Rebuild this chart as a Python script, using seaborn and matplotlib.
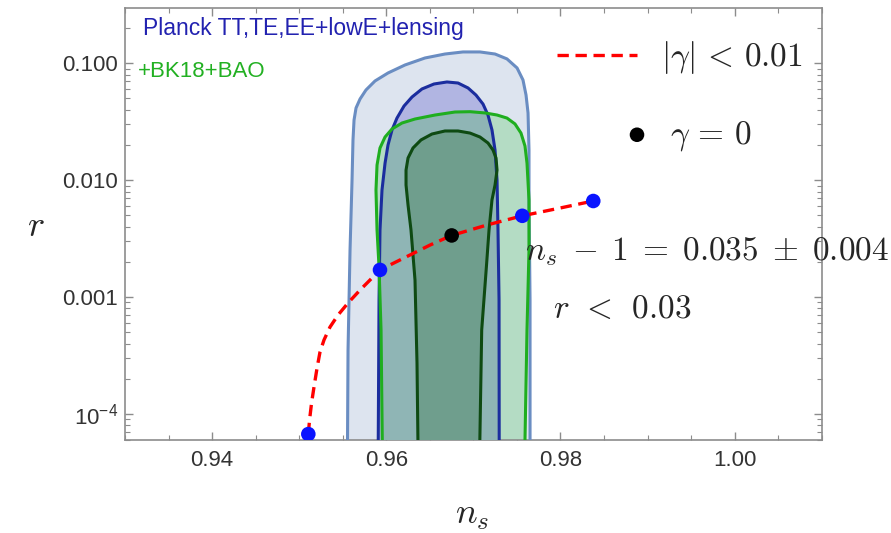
import matplotlib
matplotlib.use("Agg")
import matplotlib.pyplot as plt
import matplotlib.ticker as mticker
import seaborn as sns
import pandas as pd

# contour outlines (ns, r), open towards the bottom of the plot
outer_ns = [0.95549, 0.95561, 0.95584, 0.95607, 0.95618, 0.95630, 0.95653, 0.95699,
            0.95767, 0.95871, 0.96020, 0.96215, 0.96445, 0.96674, 0.96881, 0.97076,
            0.97249, 0.97386, 0.97502, 0.97570, 0.97605, 0.97628, 0.97639, 0.97639,
            0.97651, 0.97651]
outer_r = [1e-5, 3.53e-4, 2.53e-3, 1.00e-2, 0.0221, 0.0327, 0.0415, 0.0495,
           0.0591, 0.0706, 0.0826, 0.0967, 0.111, 0.120, 0.125, 0.125,
           0.120, 0.109, 0.0912, 0.0720, 0.0535, 0.0376, 0.0181, 6.78e-3,
           9.44e-4, 1e-5]

planck68_ns = [0.95902, 0.95917, 0.95928, 0.95951, 0.95986, 0.96020, 0.96066, 0.96123,
               0.96204, 0.96296, 0.96410, 0.96548, 0.96697, 0.96824, 0.96939, 0.97030,
               0.97111, 0.97168, 0.97214, 0.97249, 0.97272, 0.97283, 0.97295, 0.97298]
planck68_r = [1e-5, 9.44e-4, 3.75e-3, 8.24e-3, 0.0140, 0.0200, 0.0269, 0.0340,
              0.0431, 0.0515, 0.0603, 0.0665, 0.0692, 0.0678, 0.0615, 0.0535,
              0.0448, 0.0361, 0.0269, 0.0181, 0.0100, 3.75e-3, 9.44e-4, 1e-5]

bk95_ns = [0.95966, 0.95940, 0.95917, 0.95894, 0.95882, 0.95894, 0.95928, 0.95986,
           0.96066, 0.96181, 0.96330, 0.96560, 0.96789, 0.96962, 0.97134, 0.97272,
           0.97386, 0.97478, 0.97547, 0.97593, 0.97616, 0.97639, 0.97639, 0.97616,
           0.97574]
bk95_r = [1e-5, 5.24e-4, 1.81e-3, 3.75e-3, 8.24e-3, 0.01349, 0.01886, 0.02341,
          0.02742, 0.03085, 0.03337, 0.0361, 0.0383, 0.03855, 0.0376, 0.0361,
          0.0340, 0.0303, 0.0253, 0.0196, 0.0140, 6.78e-3, 2.53e-3, 5.24e-4,
          1e-5]

bk68_ns = [0.96376, 0.96353, 0.96330, 0.96284, 0.96250, 0.96227, 0.96227, 0.96250,
           0.96307, 0.96399, 0.96525, 0.96674, 0.96824, 0.96962, 0.97076, 0.97168,
           0.97226, 0.97260, 0.97272, 0.97249, 0.97214, 0.97180, 0.97153, 0.97096,
           0.97057]
bk68_r = [1e-5, 2.73e-4, 1.40e-3, 3.75e-3, 6.13e-3, 9.10e-3, 0.0122, 0.01549,
          0.01886, 0.0221, 0.02484, 0.02636, 0.02636, 0.0253, 0.02341, 0.02081,
          0.0181, 0.01549, 0.0122, 9.10e-3, 6.78e-3, 3.75e-3, 1.96e-3, 5.24e-4,
          1e-5]

# |gamma| < 0.01 track and the marked points on it
track_ns = [0.95105, 0.95119, 0.95142, 0.95170, 0.95205, 0.95239, 0.95285, 0.95354,
            0.95446, 0.95561, 0.95699, 0.95813, 0.95928, 0.96235, 0.96503, 0.96751,
            0.97157, 0.97562, 0.97995, 0.98377]
track_r = [6.74e-5, 8.89e-5, 1.24e-4, 1.70e-4, 2.47e-4, 3.39e-4, 4.30e-4, 5.55e-4,
           7.03e-4, 8.91e-4, 1.15e-3, 1.40e-3, 1.71e-3, 2.22e-3, 2.79e-3, 3.37e-3,
           4.14e-3, 4.96e-3, 5.78e-3, 6.64e-3]
dots_ns = [0.95105, 0.95928, 0.97562, 0.98377]
dots_r = [6.74e-5, 1.71e-3, 4.96e-3, 6.64e-3]
center_ns = [0.96751]
center_r = [3.37e-3]

ytick_vals = [1e-4, 1e-3, 1e-2, 1e-1]
ytick_labels = [r"$\mathregular{10^{-4}}$", "0.001", "0.010", "0.100"]
xtick_vals = [0.94, 0.96, 0.98, 1.00]
xtick_labels = ["0.94", "0.96", "0.98", "1.00"]

sns.set_style("ticks")
plt.rcParams["font.family"] = ["Liberation Sans", "DejaVu Sans"]
plt.rcParams["mathtext.fontset"] = "cm"

W, H = 891, 533
fig = plt.figure(figsize=(W / 100, H / 100), dpi=100)
ax = fig.add_axes([125 / W, 1 - 440 / H, 696.7 / W, 432 / H])


def px(x, y):
    return x / W, 1 - y / H


# filled regions
ax.fill(outer_ns, outer_r, color="#dde4ef", lw=0, zorder=1)
bk95_patch = ax.fill(bk95_ns, bk95_r, color="#b4dcc4", lw=0, zorder=2)[0]
ax.fill(planck68_ns, planck68_r, color="#b1b5e2", lw=0, zorder=3)
overlap = ax.fill(planck68_ns, planck68_r, color="#8fb5b5", lw=0, zorder=4)[0]
overlap.set_clip_path(bk95_patch)
ax.fill(bk68_ns, bk68_r, color="#6f9e8d", lw=0, zorder=5)

# outlines
ax.plot(outer_ns, outer_r, color="#6a8dc2", lw=2.2, zorder=6)
ax.plot(planck68_ns, planck68_r, color="#1b2d9e", lw=2.2, zorder=6)
ax.plot(bk95_ns, bk95_r, color="#1fae1f", lw=2.2, zorder=6)
ax.plot(bk68_ns, bk68_r, color="#0e4a12", lw=2.2, zorder=6)

track = pd.DataFrame({"ns": track_ns, "r": track_r})
sns.lineplot(data=track, x="ns", y="r", sort=False, ax=ax, color="red",
             lw=2.4, zorder=7, label="track")
ax.lines[-1].set_dashes([3.4, 2.0])
sns.scatterplot(x=dots_ns, y=dots_r, ax=ax, color="#0a14ff", s=110,
                edgecolor="none", zorder=8)
sns.scatterplot(x=center_ns, y=center_r, ax=ax, color="black", s=110,
                edgecolor="none", zorder=9, label="center")

ax.set_yscale("log")
ax.set_xlim(0.93, 1.01)
ax.set_ylim(6.0e-5, 0.297)
ax.set_xticks(xtick_vals, xtick_labels)
ax.xaxis.set_minor_locator(mticker.MultipleLocator(0.005))
ax.set_yticks(ytick_vals, ytick_labels)
ax.yaxis.set_minor_locator(mticker.LogLocator(subs=range(2, 10)))
ax.yaxis.set_minor_formatter(mticker.NullFormatter())
ax.set_xlabel("")
ax.set_ylabel("")

ax.tick_params(which="both", direction="in", top=True, right=True,
               color="#8c8c8c", labelcolor="#333333", labelsize=16)
ax.tick_params(which="major", length=6, width=1)
ax.tick_params(which="minor", length=3.5, width=0.8)
ax.tick_params(axis="x", pad=7)
ax.tick_params(axis="y", pad=5)
for sp in ax.spines.values():
    sp.set_color("#8c8c8c")
    sp.set_linewidth(1.2)

# legends
handles = ax.get_legend_handles_labels()[0]
leg1 = ax.legend(handles=[handles[0]], labels=[r"$|\gamma|\,<\,0.01$"],
                 loc="center left", bbox_to_anchor=px(557, 58),
                 bbox_transform=fig.transFigure, frameon=False, fontsize=24,
                 borderpad=0, borderaxespad=0, handlelength=2.4,
                 handletextpad=0.72)
ax.add_artist(leg1)
ax.legend(handles=[handles[1]], labels=[r"$\gamma\,=\,0$"], loc="center left",
          bbox_to_anchor=px(622, 136), bbox_transform=fig.transFigure,
          frameon=False, fontsize=24, borderpad=0, borderaxespad=0,
          handlelength=0.9, handletextpad=0.55)

# annotations
fig.text(*px(143, 35), "Planck TT,TE,EE+lowE+lensing", color="#2222b0",
         fontsize=16.5, va="baseline")
fig.text(*px(138, 77), "+BK18+BAO", color="#22b022", fontsize=16,
         va="baseline")
fig.text(*px(525, 260), r"$n_s\;-\;1\;=\;0.035\;\pm\;0.004$", fontsize=24,
         va="baseline")
fig.text(*px(553, 318), r"$r\;\,<\;\,0.03$", fontsize=24, va="baseline")
fig.text(*px(472, 515), r"$n_s$", fontsize=26, ha="center", va="center")
fig.text(*px(36, 226), r"$r$", fontsize=26, ha="center", va="center")

fig.savefig("out.png", dpi=100)
